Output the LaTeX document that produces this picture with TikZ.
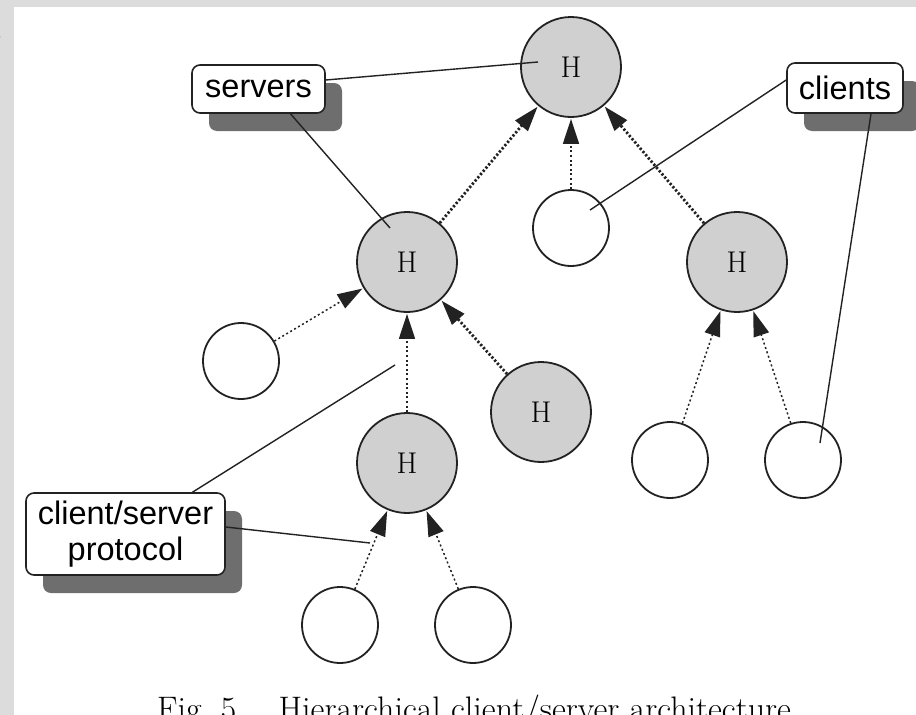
\documentclass[tikz,border=0pt]{standalone}
\usepackage{fontspec}
\newfontfamily\labelfont{Liberation Sans}
\usetikzlibrary{arrows.meta,shadows}
\definecolor{pagegrey}{HTML}{DCDCDC}
\definecolor{hfill}{HTML}{D0D0D0}
\definecolor{ink}{HTML}{222222}
\definecolor{shadowgrey}{HTML}{6E6E6E}

\begin{document}
\begin{tikzpicture}[x=1pt,y=-1pt,
  hnode/.style={circle, draw=ink, line width=1.8pt, fill=hfill,
    minimum size=100pt, inner sep=0pt, font=\fontsize{30}{36}\selectfont},
  cnode/.style={circle, draw=ink, line width=1.8pt, fill=white,
    minimum size=76pt, inner sep=0pt},
  tag/.style={draw=ink, line width=1.6pt, fill=white, rounded corners=8pt,
    align=center, inner sep=0pt,
    font=\labelfont\fontsize{32.5}{36}\selectfont,
    drop shadow={shadow xshift=17pt, shadow yshift=-18pt, opacity=1,
      fill=shadowgrey, draw=none}},
  tip/.style={-{Triangle[length=25pt,width=16pt]}, shorten >=1pt},
  hlink/.style={tip, draw=ink, line width=2.8pt, dash pattern=on 2.2pt off 2pt},
  clink/.style={tip, draw=ink, line width=1.5pt, dash pattern=on 2pt off 2.6pt},
  leader/.style={draw=ink, line width=1.4pt},
]
\useasboundingbox (0,0) rectangle (916,715);
\clip (0,0) rectangle (916,715);

% page background and white panel
\fill[pagegrey] (0,0) rectangle (916,715);
\fill[white] (14,7) rectangle (916,715);
\node[anchor=base east, font=\fontsize{25}{30}\selectfont] (pagenum) at (5,42) {5};

% hosts and clients
\node[hnode] (h0) at (571,67) {H};
\node[hnode] (h1) at (407,262) {H};
\node[cnode] (c0) at (571,228) {};
\node[hnode] (h2) at (737,262) {H};
\node[cnode] (c1) at (241,361) {};
\node[hnode] (h3) at (541,412) {H};
\node[hnode] (h4) at (407,463) {H};
\node[cnode] (c2) at (670,460) {};
\node[cnode] (c3) at (803,460) {};
\node[cnode] (c4) at (340,625) {};
\node[cnode] (c5) at (473,625) {};

% client/server links, child to parent
\draw[hlink] (h1) -- (h0);
\draw[clink] (c0) -- (h0);
\draw[hlink] (h2) -- (h0);
\draw[clink] (c1) -- (h1);
\draw[hlink] (h3) -- (h1);
\draw[clink] (h4) -- (h1);
\draw[clink] (c2) -- (h2);
\draw[clink] (c3) -- (h2);
\draw[clink] (c4) -- (h4);
\draw[clink] (c5) -- (h4);

% callout ends
\coordinate (srvA) at (538,62);
\coordinate (srvB) at (390,228);
\coordinate (cliA) at (590,210);
\coordinate (cliB) at (820,443);
\coordinate (proA) at (395,365);
\coordinate (proB) at (370,543);

% callout boxes
\node[tag, minimum width=133pt, minimum height=48pt] (servers) at (258.5,89) {servers};
\node[tag, minimum width=116pt, minimum height=50pt] (clients) at (845,88) {clients};
\node[tag, minimum width=199pt, minimum height=82pt] (protocol) at (125.5,534) {client/server\\protocol};

\draw[leader] ([yshift=9pt]servers.east) -- (srvA);
\draw[leader] ([xshift=32pt]servers.south) -- (srvB);
\draw[leader] ([yshift=8pt]clients.west) -- (cliA);
\draw[leader] ([xshift=26pt]clients.south) -- (cliB);
\draw[leader] ([xshift=67pt]protocol.north) -- (proA);
\draw[leader] ([yshift=7pt]protocol.east) -- (proB);

% caption
\node[anchor=base west, inner sep=0pt, font=\fontsize{34}{38}\selectfont] (caption) at (157,720)
  {Fig.~5.\quad Hierarchical client/server architecture.};
\end{tikzpicture}
\end{document}
